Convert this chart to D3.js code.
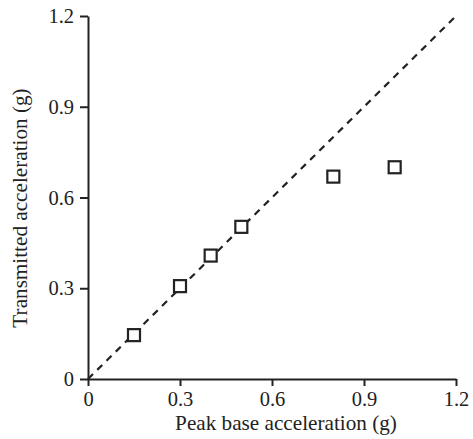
<!DOCTYPE html>
<html>
<head>
<meta charset="utf-8">
<script src="https://cdn.jsdelivr.net/npm/d3@7"></script>
<style>
  html, body { margin: 0; padding: 0; background: #fff; }
  svg { display: block; }
  text { font-family: "Liberation Serif", "Times New Roman", serif; fill: #222; }
</style>
</head>
<body>
<script>
// Peak base acceleration vs. transmitted acceleration (g)
const peakBase = [0.15, 0.3, 0.4, 0.5, 0.8, 1.0];
const transmitted = [0.145, 0.307, 0.408, 0.503, 0.669, 0.70];
const xTicks = [0, 0.3, 0.6, 0.9, 1.2];
const yTicks = [0, 0.3, 0.6, 0.9, 1.2];
const referenceLine = [0, 1.2]; // 1:1 line endpoints

const W = 473, H = 439;
const margin = { left: 88, right: 17, top: 16, bottom: 60 };
const serif = '"Liberation Serif", "Times New Roman", serif';

const svg = d3.select("body").append("svg").attr("width", W).attr("height", H);

const x = d3.scaleLinear().domain([0, 1.2]).range([margin.left, W - margin.right]);
const y = d3.scaleLinear().domain([0, 1.2]).range([H - margin.bottom, margin.top]);

const ink = "#222";
const fmt = d => d === 0 ? "0" : d3.format(".1f")(d);

// axes
const xAxis = svg.append("g")
  .attr("transform", `translate(0,${y(0)})`)
  .call(d3.axisBottom(x).tickValues(xTicks).tickFormat(fmt).tickSize(7).tickSizeOuter(0).tickPadding(5));
const yAxis = svg.append("g")
  .attr("transform", `translate(${x(0)},0)`)
  .call(d3.axisLeft(y).tickValues(yTicks).tickFormat(fmt).tickSize(8).tickSizeOuter(0).tickPadding(6));

[xAxis, yAxis].forEach(g => {
  g.attr("font-family", serif).attr("font-size", 20.5);
  g.select(".domain").attr("stroke", ink).attr("stroke-width", 2);
  g.selectAll(".tick line").attr("stroke", ink).attr("stroke-width", 2);
  g.selectAll(".tick text").attr("fill", ink);
});

// 1:1 dashed line
svg.append("line")
  .attr("x1", x(referenceLine[0])).attr("y1", y(referenceLine[0]))
  .attr("x2", x(referenceLine[1])).attr("y2", y(referenceLine[1]))
  .attr("stroke", ink).attr("stroke-width", 2.2)
  .attr("stroke-dasharray", "7,6");

// data markers
const s = 12;
svg.selectAll("rect.pt").data(peakBase).enter().append("rect")
  .attr("class", "pt")
  .attr("x", (d) => x(d) - s / 2)
  .attr("y", (d, i) => y(transmitted[i]) - s / 2)
  .attr("width", s).attr("height", s)
  .attr("fill", "#fff").attr("stroke", ink).attr("stroke-width", 2.2);

// axis titles
svg.append("text")
  .attr("x", 286).attr("y", 430)
  .attr("text-anchor", "middle").attr("font-size", 21.2)
  .text("Peak base acceleration (g)");

svg.append("text")
  .attr("transform", `translate(27,208) rotate(-90)`)
  .attr("text-anchor", "middle").attr("font-size", 21.2)
  .text("Transmitted acceleration (g)");
</script>
</body>
</html>
